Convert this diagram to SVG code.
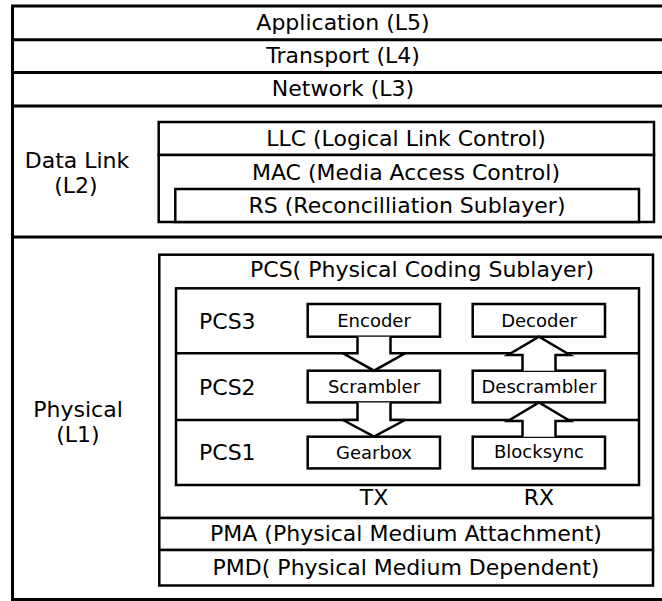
<svg xmlns="http://www.w3.org/2000/svg" width="662" height="601" viewBox="0 0 662 601">
  <style>
    .frame { fill: none; stroke: #000; stroke-width: 3; }
    .box { fill: #fff; stroke: #000; stroke-width: 2.5; }
    .lbl { font-family: "DejaVu Sans", sans-serif; font-size: 22px; fill: #000; }
    .mid { text-anchor: middle; }
    .blk { font-family: "DejaVu Sans", sans-serif; font-size: 18px; fill: #000; text-anchor: middle; }
    .arrow { fill: #fff; stroke: #000; stroke-width: 2.5; stroke-linejoin: miter; }
  </style>
  <rect width="662" height="601" fill="#fff"/>

  <!-- OSI layer stack -->
  <g id="stack">
    <rect class="frame" x="12.5" y="6" width="662" height="593.5"/>
    <line class="frame" x1="12.5" y1="39.7" x2="674" y2="39.7"/>
    <line class="frame" x1="12.5" y1="72.5" x2="674" y2="72.5"/>
    <line class="frame" x1="12.5" y1="106" x2="674" y2="106"/>
    <line class="frame" x1="12.5" y1="237" x2="674" y2="237"/>
  </g>
  <g id="application"><text class="lbl mid" x="343" y="30">Application (L5)</text></g>
  <g id="transport"><text class="lbl mid" x="343" y="63">Transport (L4)</text></g>
  <g id="network"><text class="lbl mid" x="343" y="96">Network (L3)</text></g>

  <!-- Data link layer -->
  <g id="datalink">
    <text class="lbl mid" x="77" y="168">Data Link</text>
    <text class="lbl mid" x="76" y="193">(L2)</text>
  </g>
  <g id="llc">
    <rect class="box" x="158.7" y="122" width="495.3" height="33"/>
    <text class="lbl mid" x="406" y="146">LLC (Logical Link Control)</text>
  </g>
  <g id="mac">
    <rect class="box" x="158.7" y="155" width="495.3" height="67"/>
    <text class="lbl mid" x="406" y="180">MAC (Media Access Control)</text>
  </g>
  <g id="rs">
    <rect class="box" x="175.3" y="189" width="463.7" height="33"/>
    <text class="lbl mid" x="407" y="213">RS (Reconcilliation Sublayer)</text>
  </g>

  <!-- Physical layer -->
  <g id="physical">
    <text class="lbl mid" x="78" y="417">Physical</text>
    <text class="lbl mid" x="78" y="442">(L1)</text>
  </g>
  <g id="pcs">
    <rect class="box" x="159.3" y="254.7" width="493.7" height="263.3"/>
    <text class="lbl" x="250" y="277">PCS( Physical Coding Sublayer)</text>
    <rect class="box" x="176" y="288.3" width="463" height="196.7"/>
    <line class="box" x1="176" y1="353.3" x2="639" y2="353.3"/>
    <line class="box" x1="176" y1="420" x2="639" y2="420"/>
    <text class="lbl" x="199" y="329">PCS3</text>
    <text class="lbl" x="199" y="395">PCS2</text>
    <text class="lbl" x="199" y="460">PCS1</text>
    <text class="lbl mid" x="374" y="505">TX</text>
    <text class="lbl mid" x="539" y="505">RX</text>
  </g>
  <g id="encoder">
    <rect class="box" x="307.7" y="304" width="132.3" height="32.7"/>
    <text class="blk" x="374" y="327">Encoder</text>
  </g>
  <g id="decoder">
    <rect class="box" x="472.7" y="304" width="132.3" height="32.7"/>
    <text class="blk" x="539" y="327">Decoder</text>
  </g>
  <g id="scrambler">
    <rect class="box" x="307.7" y="370.7" width="132.3" height="31.7"/>
    <text class="blk" x="374" y="393">Scrambler</text>
  </g>
  <g id="descrambler">
    <rect class="box" x="472.7" y="370.7" width="132.3" height="31.7"/>
    <text class="blk" x="539" y="393">Descrambler</text>
  </g>
  <g id="gearbox">
    <rect class="box" x="307.7" y="436.7" width="132.3" height="31.7"/>
    <text class="blk" x="374" y="459">Gearbox</text>
  </g>
  <g id="blocksync">
    <rect class="box" x="472.7" y="436.7" width="132.3" height="31.7"/>
    <text class="blk" x="539" y="458">Blocksync</text>
  </g>

  <!-- Block arrows: TX flows down, RX flows up -->
  <g id="connectors">
    <path class="arrow" d="M357.5 336.7 V353.3 H343 L374 370.7 L405 353.3 H390.5 V336.7"/>
    <path class="arrow" d="M357.5 402.4 V420 H343 L374 436.7 L405 420 H390.5 V402.4"/>
    <path class="arrow" d="M522.5 370.7 V355 H508 L539 336.7 L570 355 H555.5 V370.7"/>
    <path class="arrow" d="M522.5 436.7 V421 H508 L539 402.4 L570 421 H555.5 V436.7"/>
  </g>

  <g id="pma">
    <rect class="box" x="159.3" y="518" width="493.7" height="32"/>
    <text class="lbl mid" x="406" y="541">PMA (Physical Medium Attachment)</text>
  </g>
  <g id="pmd">
    <rect class="box" x="159.3" y="550" width="493.7" height="35.5"/>
    <text class="lbl mid" x="406" y="575">PMD( Physical Medium Dependent)</text>
  </g>
</svg>
